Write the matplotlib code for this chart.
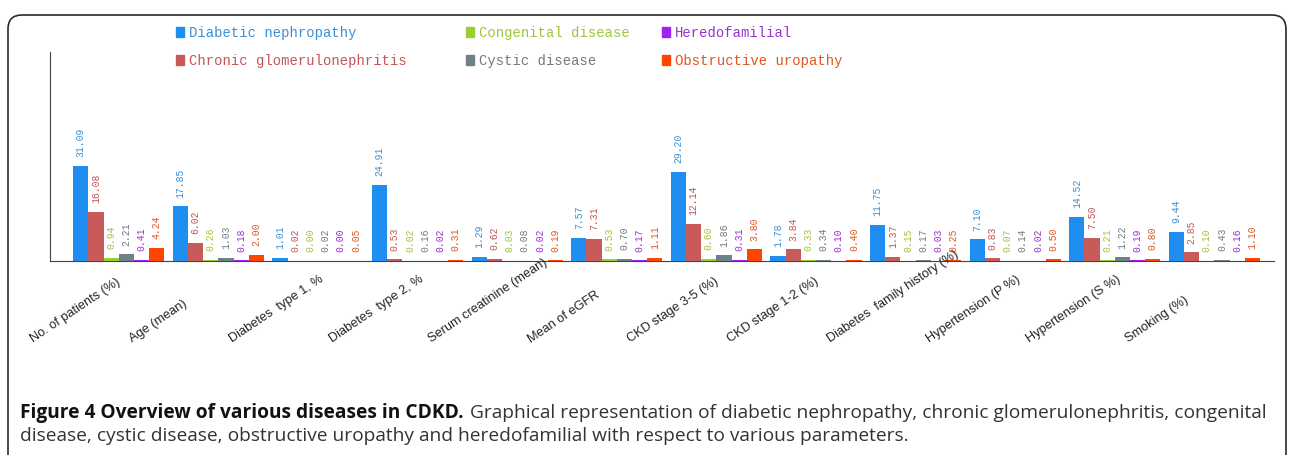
import numpy as np
import matplotlib
matplotlib.use("Agg")
import matplotlib.pyplot as plt
import matplotlib.transforms as mtransforms
from matplotlib.patches import FancyBboxPatch, Rectangle

# data
categories = ["No. of patients (%)", "Age (mean)", "Diabetes  type 1, %",
              "Diabetes  type 2, %", "Serum creatinine (mean)", "Mean of eGFR",
              "CKD stage 3-5 (%)", "CKD stage 1-2 (%)",
              "Diabetes  family history (%)", "Hypertension (P %)",
              "Hypertension (S %)", "Smoking (%)"]
series = ["Diabetic nephropathy", "Chronic glomerulonephritis",
          "Congenital disease", "Cystic disease", "Heredofamilial",
          "Obstructive uropathy"]
diabetic_nephropathy = [31.09, 17.85, 1.01, 24.91, 1.29, 7.57, 29.20, 1.78, 11.75, 7.10, 14.52, 9.44]
chronic_gn = [16.08, 6.02, 0.02, 0.53, 0.62, 7.31, 12.14, 3.84, 1.37, 0.83, 7.50, 2.85]
congenital = [0.94, 0.26, 0.00, 0.02, 0.03, 0.53, 0.60, 0.33, 0.15, 0.07, 0.21, 0.10]
cystic = [2.21, 1.03, 0.02, 0.16, 0.08, 0.70, 1.86, 0.34, 0.17, 0.14, 1.22, 0.43]
heredofamilial = [0.41, 0.18, 0.00, 0.02, 0.02, 0.17, 0.31, 0.10, 0.03, 0.02, 0.19, 0.16]
obstructive = [4.24, 2.00, 0.05, 0.31, 0.19, 1.11, 3.80, 0.40, 0.25, 0.50, 0.80, 1.10]
values = [diabetic_nephropathy, chronic_gn, congenital, cystic, heredofamilial, obstructive]

bar_colors = ["#1e8ff0", "#c85a5a", "#9acd32", "#6f8088", "#a020f0", "#ff4500"]
text_colors = ["#3a8fd6", "#c05656", "#9fc53a", "#707a80", "#9a30d0", "#e0561e"]

W, H = 1292, 456
fig = plt.figure(figsize=(W / 100, H / 100), dpi=100)

# rounded frame around the figure
frame = FancyBboxPatch((0.08, -0.3), 12.78, 4.40 + 0.3,
                       boxstyle="round,pad=0,rounding_size=0.14",
                       transform=fig.dpi_scale_trans, fill=False,
                       edgecolor="#2a2a2a", linewidth=1.2)
fig.add_artist(frame)

ax = fig.add_axes([50 / W, (H - 262) / H, (1274 - 50) / W, (262 - 53) / H])
x = np.arange(len(categories))
bw = 0.1526
for k, (vals, col, tcol) in enumerate(zip(values, bar_colors, text_colors)):
    pos = x + (k - 2.5) * bw
    ax.bar(pos, vals, width=bw, color=col, zorder=2)
    for xp, v in zip(pos, vals):
        ax.annotate(f"{v:.2f}", (xp, v), xytext=(0, 7), textcoords="offset points",
                    rotation=90, ha="center", va="bottom", color=tcol,
                    fontsize=7, family="Liberation Mono")

ax.set_xlim(-0.691, 11.598)
ax.set_ylim(0, 68.3)
for s in ["top", "right"]:
    ax.spines[s].set_visible(False)
ax.spines["left"].set_color("#444444")
ax.spines["bottom"].set_color("#444444")
ax.spines["bottom"].set_zorder(1)
ax.set_yticks([])
ax.set_xticks(x)
ax.set_xticklabels([])
ax.tick_params(axis="x", length=0)

# category labels start lower-left and run up to the right
shift = mtransforms.ScaledTranslation(-84 / 100, -83 / 100, fig.dpi_scale_trans)
trans = ax.get_xaxis_transform() + shift
for xi, lab in zip(x, categories):
    ax.text(xi, 0, lab, transform=trans, rotation=34, rotation_mode="anchor",
            ha="left", va="bottom", fontsize=9.2, family="Liberation Sans",
            color="#222222")

# legend drawn by hand: three columns, two rows
leg_x = [176, 176, 466, 466, 662, 662]
leg_y = [33, 61, 33, 61, 33, 61]
for name, col, tcol, lx, ly in zip(series, bar_colors, text_colors, leg_x, leg_y):
    fig.add_artist(Rectangle((lx / W, (H - ly - 5) / H), 8 / W, 10 / H,
                             transform=fig.transFigure, color=col))
    fig.text((lx + 13) / W, (H - ly) / H, name, color=tcol, fontsize=10,
             family="Liberation Mono", va="center", ha="left")

# caption
fig.canvas.draw()
rend = fig.canvas.get_renderer()
t1 = fig.text(20 / W, (H - 418) / H, "Figure 4 Overview of various diseases in CDKD.",
              fontsize=13.8, fontweight="bold", family="Open Sans", color="#111111")
bb = t1.get_window_extent(rend)
fig.text(bb.x1 / W + 6 / W, (H - 418) / H,
         "Graphical representation of diabetic nephropathy, chronic glomerulonephritis, congenital",
         fontsize=13.8, family="Open Sans", color="#333333")
fig.text(20 / W, (H - 441) / H,
         "disease, cystic disease, obstructive uropathy and heredofamilial with respect to various parameters.",
         fontsize=13.8, family="Open Sans", color="#333333")

fig.savefig("out.png", dpi=100)
